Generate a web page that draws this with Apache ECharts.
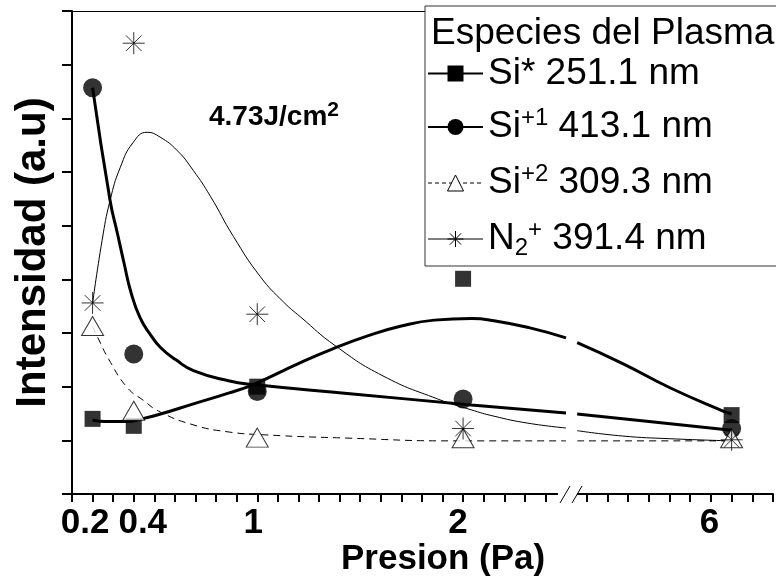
<!DOCTYPE html>
<html>
<head>
<meta charset="utf-8">
<script src="https://cdn.jsdelivr.net/npm/echarts@6/dist/echarts.min.js"></script>
<style>
  html, body { margin: 0; padding: 0; background: #fff; }
  #chart { width: 776px; height: 581px; }
</style>
</head>
<body>
<div id="chart"></div>
<script>
// Presión de trabajo (Pa) de cada medida
const presion = [0.2, 0.4, 1, 2, 6.5];

// Intensidad de emisión de cada especie (u.a.)
const siStar  = [1.40, 1.27, 2.00, 4.01, 1.47];
const siPlus1 = [7.57, 2.61, 1.91, 1.77, 1.22];
const siPlus2 = [3.13, 1.55, 1.05, 1.04, 1.04];
const n2Plus  = [3.56, 8.40, 3.35, 1.22, 1.01];

// Curvas de ajuste [presión, intensidad]: tramo A antes del corte del eje, tramo B después
const ajusteSiStarA = [[0.2,1.38],[0.26,1.35],[0.37,1.35],[0.44,1.40],[0.53,1.49],[0.69,1.68],[0.86,1.88],[0.98,2.04],[1.21,2.45],[1.37,2.71],[1.54,2.95],[1.70,3.13],[1.86,3.24],[2.04,3.27],[2.15,3.23],[2.32,3.10],[2.50,2.91]];
const ajusteSiStarB = [[2.77,2.82],[3.87,2.43],[5.01,1.98],[6.28,1.55],[6.5,1.49]];
const ajusteSiPlus1A = [[0.2,7.57],[0.285,5.47],[0.321,4.85],[0.353,4.30],[0.387,3.75],[0.43,3.29],[0.479,2.98],[0.53,2.73],[0.605,2.50],[0.69,2.30],[0.86,2.11],[0.98,2.04],[1.45,1.87],[2.04,1.66],[2.50,1.51]];
const ajusteSiPlus1B = [[2.77,1.49],[4.39,1.36],[6.5,1.19]];
const ajusteSiPlus2A = [[0.2,3.12],[0.231,2.87],[0.280,2.50],[0.367,1.99],[0.445,1.75],[0.528,1.53],[0.688,1.29],[0.853,1.16],[1.047,1.10],[1.451,1.04],[1.937,0.99],[2.50,0.99]];
const ajusteSiPlus2B = [[2.77,0.99],[6.5,0.99]];
const ajusteN2A = [[0.2,3.55],[0.246,4.72],[0.285,5.47],[0.334,6.08],[0.397,6.55],[0.465,6.74],[0.528,6.65],[0.611,6.40],[0.689,6.03],[0.772,5.55],[0.884,4.80],[1.015,4.05],[1.127,3.58],[1.21,3.30],[1.38,2.76],[1.611,2.20],[1.877,1.77],[2.038,1.57],[2.15,1.45],[2.315,1.32],[2.50,1.23]];
const ajusteN2B = [[2.77,1.18],[3.87,1.08],[5.01,1.03],[6.5,0.99]];

// Valor del eje X donde cambia la escala (corte //)
const corte = 2.5;

// Marcas rotuladas del eje X
const xTicks = [0.2, 0.4, 1, 2, 6];
const xTickTexto = ['0.2', '0.4', '1', '2', '6'];
const xTickEstilo = ['a', 'b', 'c', 'd', 'e'];

// Nombres de la leyenda
const especies = ['Si*', 'Si+1', 'Si+2', 'N2+'];
const especiesTexto = [
  '{t|Si* 251.1 nm}',
  '{t|Si}{sup|+1}{t| 413.1 nm}',
  '{t|Si}{sup|+2}{t| 309.3 nm}',
  '{t|N}{sub|2}{sup|+}{t| 391.4 nm}'
];

const FONT = "'Liberation Sans', Arial, sans-serif";
const ASTERISCO = 'path://M0,-10L0,10M-10,0L10,0M-7.07,-7.07L7.07,7.07M-7.07,7.07L7.07,-7.07';

function puntos(valores, tramoB) {
  const out = [];
  presion.forEach(function (p, i) {
    if ((p > corte) === tramoB) out.push([p, valores[i]]);
  });
  return out;
}

function etiquetaX(v) {
  for (let i = 0; i < xTicks.length; i++) {
    if (Math.abs(v - xTicks[i]) < 1e-6) return '{' + xTickEstilo[i] + '|' + xTickTexto[i] + '}';
  }
  return '';
}

const labelBase = { fontSize: 35, fontWeight: 'bold', color: '#000', fontFamily: FONT };
const richX = {
  a: Object.assign({}, labelBase, { padding: [0, 15, 0, 0] }),
  b: Object.assign({}, labelBase, { padding: [0, 0, 0, 18] }),
  c: Object.assign({}, labelBase, { padding: [0, 8, 0, 0] }),
  d: Object.assign({}, labelBase, { padding: [0, 10, 0, 0] }),
  e: Object.assign({}, labelBase, { padding: [0, 3, 0, 0] })
};

const ejeXBase = {
  type: 'value',
  position: 'bottom',
  axisLine: { show: true, onZero: false, lineStyle: { color: '#000', width: 2 } },
  axisTick: { show: true, inside: false, length: 8, lineStyle: { color: '#000', width: 2 } },
  axisLabel: { show: true, margin: 12, formatter: etiquetaX, rich: richX },
  splitLine: { show: false }
};

const estilos = {
  'Si*':  { symbol: 'rect', size: 16, item: { color: '#000' }, line: { color: '#000', width: 3, type: 'solid' } },
  'Si+1': { symbol: 'circle', size: 19, item: { color: '#000' }, line: { color: '#000', width: 3, type: 'solid' } },
  'Si+2': { symbol: 'triangle', size: [22, 19], item: { color: '#fff', borderColor: '#000', borderWidth: 1 }, line: { color: '#000', width: 1, type: [7, 5] } },
  'N2+':  { symbol: ASTERISCO, size: 22, item: { color: 'none', borderColor: '#000', borderWidth: 1 }, line: { color: '#000', width: 1, type: 'solid' } }
};

const curvas = {
  'Si*': [ajusteSiStarA, ajusteSiStarB],
  'Si+1': [ajusteSiPlus1A, ajusteSiPlus1B],
  'Si+2': [ajusteSiPlus2A, ajusteSiPlus2B],
  'N2+': [ajusteN2A, ajusteN2B]
};
const medidas = { 'Si*': siStar, 'Si+1': siPlus1, 'Si+2': siPlus2, 'N2+': n2Plus };

const series = [];
especies.forEach(function (nombre) {
  const e = estilos[nombre];
  [0, 1].forEach(function (tramo) {
    series.push({
      type: 'line', name: nombre, data: curvas[nombre][tramo],
      xAxisIndex: tramo === 0 ? 0 : 2, yAxisIndex: tramo,
      smooth: 0.5, showSymbol: false,
      symbol: e.symbol, symbolSize: e.size,
      itemStyle: e.item, lineStyle: e.line,
      silent: true, z: 2, animation: false
    });
  });
});
especies.forEach(function (nombre) {
  const e = estilos[nombre];
  [0, 1].forEach(function (tramo) {
    series.push({
      type: 'scatter', name: nombre + ' medida', data: puntos(medidas[nombre], tramo === 1),
      xAxisIndex: tramo === 0 ? 0 : 2, yAxisIndex: tramo,
      symbol: e.symbol, symbolSize: e.size, itemStyle: e.item,
      silent: true, z: 3, animation: false
    });
  });
});

const option = {
  animation: false,
  backgroundColor: '#fff',
  textStyle: { fontFamily: FONT },
  grid: [
    { left: 72, top: 11, width: 494, height: 483 },
    { left: 566, top: 11, width: 220, height: 483 }
  ],
  xAxis: [
    Object.assign({}, ejeXBase, { gridIndex: 0, min: 0.1, max: corte, interval: 0.1 }),
    { type: 'value', gridIndex: 0, position: 'top', min: 0.1, max: corte,
      axisLine: { show: true, onZero: false, lineStyle: { color: '#000', width: 1 } },
      axisTick: { show: false }, axisLabel: { show: false }, splitLine: { show: false } },
    Object.assign({}, ejeXBase, { gridIndex: 1, min: corte, max: 7.5, interval: 0.5 })
  ],
  yAxis: [
    { type: 'value', gridIndex: 0, min: 0, max: 9, interval: 1,
      name: 'Intensidad (a.u)', nameLocation: 'middle', nameRotate: 90, nameGap: 18,
      nameTextStyle: { fontSize: 42, fontWeight: 'bold', color: '#000', fontFamily: FONT },
      axisLine: { show: true, onZero: false, lineStyle: { color: '#000', width: 2 } },
      axisTick: { show: true, inside: false, length: 10, lineStyle: { color: '#000', width: 2 } },
      axisLabel: { show: false }, splitLine: { show: false } },
    { type: 'value', gridIndex: 1, min: 0, max: 9, interval: 1, show: false, splitLine: { show: false } }
  ],
  legend: {
    orient: 'vertical', left: 425, top: 6,
    padding: [49, 80, 6, 2],
    itemWidth: 55, itemHeight: 20, itemGap: 14,
    backgroundColor: '#fff', borderColor: '#333', borderWidth: 1,
    selectedMode: false,
    data: especies.map(function (nombre) {
      const e = estilos[nombre];
      return {
        name: nombre,
        itemStyle: Object.assign({ opacity: 1, borderWidth: e.item.borderWidth || 0 }, e.item),
        lineStyle: { color: '#000', opacity: 1, width: nombre === 'Si+2' ? 1 : (e.line.width > 1 ? 2 : 1), type: nombre === 'Si+2' ? [4, 3] : 'solid' }
      };
    }),
    formatter: function (n) { return especiesTexto[especies.indexOf(n)]; },
    textStyle: {
      rich: {
        t: { fontSize: 37, lineHeight: 40, color: '#000', fontFamily: FONT },
        sup: { fontSize: 24, lineHeight: 20, padding: [0, 0, 18, 0], color: '#000', fontFamily: FONT },
        sub: { fontSize: 24, lineHeight: 20, padding: [18, 0, 0, 0], color: '#000', fontFamily: FONT }
      }
    }
  },
  title: [
    { text: 'Especies del Plasma', left: 431, top: 15, padding: 0,
      textStyle: { fontSize: 37, fontWeight: 'normal', color: '#000', fontFamily: FONT } },
    { text: 'Presion (Pa)', left: 341, top: 542, padding: 0,
      textStyle: { fontSize: 35, fontWeight: 'bold', color: '#000', fontFamily: FONT } },
    { text: '{a|4.73J/cm}{s|2}', left: 209, top: 100, padding: 0,
      textStyle: { rich: {
        a: { fontSize: 28, fontWeight: 'bold', color: '#000', fontFamily: FONT },
        s: { fontSize: 21, padding: [0, 0, 14, 0], color: '#000', fontFamily: FONT }
      } } }
  ],
  series: series
};

const chart = echarts.init(document.getElementById('chart'), null, { renderer: 'canvas' });
chart.setOption(option);

// Marca de corte // sobre el eje X, en el punto donde cambia la escala
const xc = chart.convertToPixel({ xAxisIndex: 0 }, corte);
const y0 = chart.convertToPixel({ yAxisIndex: 0 }, 0);
chart.setOption({
  graphic: [
    { type: 'rect', shape: { x: xc - 8, y: y0 - 6, width: 19, height: 16 }, style: { fill: '#fff' }, z: 100 },
    { type: 'line', shape: { x1: xc - 6, y1: y0 + 9, x2: xc + 4, y2: y0 - 8 }, style: { stroke: '#000', lineWidth: 1 }, z: 101 },
    { type: 'line', shape: { x1: xc + 6, y1: y0 + 9, x2: xc + 16, y2: y0 - 8 }, style: { stroke: '#000', lineWidth: 1 }, z: 101 }
  ]
});
</script>
</body>
</html>
